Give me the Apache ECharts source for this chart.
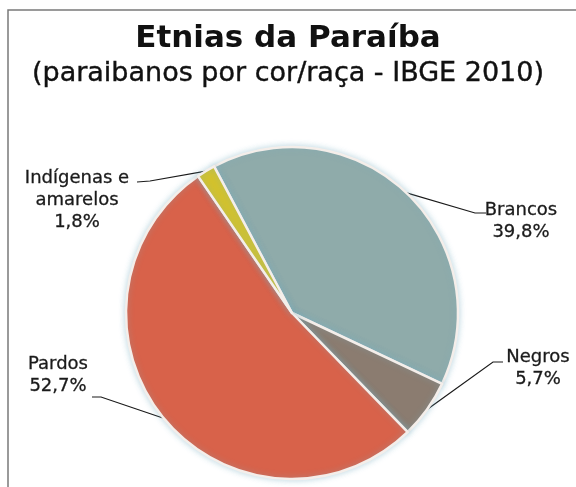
<!DOCTYPE html>
<html>
<head>
<meta charset="utf-8">
<script src="https://cdn.jsdelivr.net/npm/echarts@6/dist/echarts.min.js"></script>
<style>
  html, body { margin: 0; padding: 0; background: #ffffff; }
  #chart { width: 576px; height: 487px; }
</style>
</head>
<body>
<div id="chart"></div>
<script>
// Population of Paraíba by colour/race (IBGE census 2010), in percent
const categories = ['Brancos', 'Negros', 'Pardos', 'Indígenas e\namarelos'];
const shares = [39.8, 5.7, 52.7, 1.8];
const sliceColors = ['#8fabaa', '#8b7c70', '#d8624a', '#d3c22c'];

const titleText = 'Etnias da Paraíba';
const subtitleText = '(paraibanos por cor/raça - IBGE 2010)';

// Where each callout label sits and how its leader line bends
const calloutLayout = [
  { x: 521, y: 221, align: 'center', elbow: [475, 213], end: [486, 213] },
  { x: 538, y: 368, align: 'center', elbow: [493, 362], end: [503, 362] },
  { x: 58,  y: 375, align: 'center', elbow: [101, 397], end: [92, 397] },
  { x: 77,  y: 200, align: 'center', elbow: [150, 181], end: [137, 182] }
];

const fontFamily = '"DejaVu Sans", Verdana, sans-serif';

const chart = echarts.init(document.getElementById('chart'), null, { renderer: 'canvas' });

const pieData = categories.map((name, i) => ({
  name: name,
  value: shares[i],
  itemStyle: { color: sliceColors[i] }
}));

chart.setOption({
  animation: false,
  backgroundColor: '#ffffff',
  title: [
    {
      text: titleText,
      left: 'center',
      top: 18,
      textStyle: {
        fontFamily: fontFamily, fontSize: 31, fontWeight: 'bold', color: '#111111'
      }
    },
    {
      text: subtitleText,
      left: 'center',
      top: 55,
      textStyle: {
        fontFamily: fontFamily, fontSize: 27, fontWeight: 'normal', color: '#111111',
        textBorderColor: '#111111', textBorderWidth: 0.4
      }
    }
  ],
  graphic: [
    {
      type: 'rect',
      shape: { x: 8, y: 10, width: 620, height: 600 },
      style: { fill: 'none', stroke: '#7a7a7a', lineWidth: 1.5 },
      silent: true
    }
  ],
  series: [
    {
      type: 'pie',
      center: [292, 313],
      radius: 166,
      startAngle: 118,
      clockwise: true,
      data: pieData,
      itemStyle: {
        borderColor: '#f4eeea',
        borderWidth: 2.5,
        shadowBlur: 6,
        shadowColor: 'rgba(120, 175, 195, 0.45)'
      },
      label: {
        show: true,
        position: 'outside',
        fontFamily: fontFamily,
        fontSize: 18,
        lineHeight: 22,
        color: '#1a1a1a',
        textBorderColor: '#1a1a1a',
        textBorderWidth: 0.3,
        align: 'center',
        formatter: (p) => p.name + '\n' + p.value.toFixed(1).replace('.', ',') + '%'
      },
      labelLine: {
        show: true,
        length: 20,
        length2: 10,
        lineStyle: { color: '#1a1a1a', width: 1.2 }
      },
      labelLayout: (params) => {
        const cfg = calloutLayout[params.dataIndex];
        const start = params.labelLinePoints ? params.labelLinePoints[0] : cfg.elbow;
        return {
          x: cfg.x,
          y: cfg.y,
          align: cfg.align,
          verticalAlign: 'middle',
          labelLinePoints: [start, cfg.elbow, cfg.end]
        };
      },
      emphasis: { disabled: true }
    }
  ]
});
</script>
</body>
</html>
